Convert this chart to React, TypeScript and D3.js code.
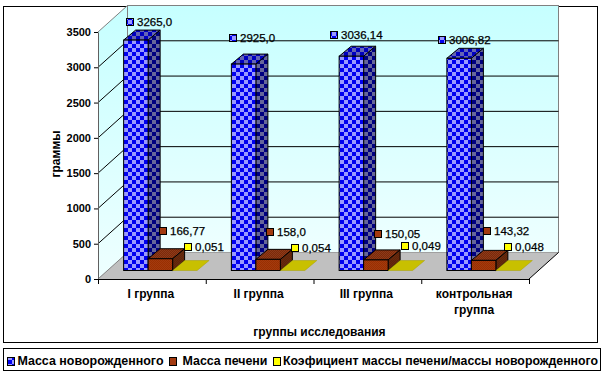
import { useEffect, useRef } from "react";
import * as d3 from "d3";

const categories = ["I группа", "II группа", "III группа", "контрольная группа"];
const seriesNames = [
  "Масса новорожденного",
  "Масса печени",
  "Коэфициент массы печени/массы новорожденного",
];
const newbornMass = [3265.0, 2925.0, 3036.14, 3006.82];
const liverMass = [166.77, 158.0, 150.05, 143.32];
const liverRatio = [0.051, 0.054, 0.049, 0.048];
const newbornLabels = ["3265,0", "2925,0", "3036,14", "3006,82"];
const liverLabels = ["166,77", "158,0", "150,05", "143,32"];
const ratioLabels = ["0,051", "0,054", "0,049", "0,048"];
const yTicks = [0, 500, 1000, 1500, 2000, 2500, 3000, 3500];

// hand-moved data labels in the original: offset of the key from the bar's top-left corner
const labelNudges = [
  [[6.5, -18.5], [2, -26.5], [-5.5, -21], [-5, -18.5]],
  [[15, -27.5], [14.5, -27], [14.5, -26], [15.5, -29]],
  [[15.5, -23.5], [14.5, -22.5], [16.5, -24.5], [12.5, -23.5]],
];

const FONT = "'Liberation Sans', Arial, sans-serif";

export default function App() {
  const svgRef = useRef<SVGSVGElement>(null);

  useEffect(() => {
    const el = svgRef.current;
    if (!el) return;
    const root = d3.select(el);
    root.selectAll("*").remove();

    const values = [newbornMass, liverMass, liverRatio];
    const labels = [newbornLabels, liverLabels, ratioLabels];

    const x0 = 98;
    const x1 = 529;
    const ys = d3.scaleLinear().domain([0, 3500]).range([279, 32]);
    const xs = d3
      .scaleBand()
      .domain(categories)
      .range([x0, x1])
      .paddingInner(0.318)
      .paddingOuter(0.159);
    const xStep = xs.step();
    const xInner = d3.scaleBand().domain(seriesNames).range([0, xs.bandwidth()]);
    const wall = { dx: 29.5, dy: -26.5 };
    const barShift = { dx: 8.5, dy: -8.5 };
    const depth = { dx: 12, dy: -10 };

    // Patterns
    const defs = root.append("defs");
    const checker = (id, a, b, size) => {
      const p = defs
        .append("pattern")
        .attr("id", id)
        .attr("patternUnits", "userSpaceOnUse")
        .attr("width", size * 2)
        .attr("height", size * 2);
      p.append("rect").attr("width", size * 2).attr("height", size * 2).attr("fill", a);
      p.append("rect").attr("width", size).attr("height", size).attr("fill", b);
      p.append("rect").attr("x", size).attr("y", size).attr("width", size).attr("height", size).attr("fill", b);
    };
    checker("blueFront", "#9999ff", "#0000f0", 4);
    checker("blueSide", "#000080", "#66669a", 4);
    checker("blueTop", "#0000c0", "#6464b4", 4);
    checker("blueKey", "#9999ff", "#0000f0", 4);
    checker("brownFront", "#a33a10", "#9a3000", 1);
    checker("brownSide", "#5f2408", "#662a10", 1);
    checker("brownTop", "#7c2a08", "#8c3a1c", 1);
    const grad = defs
      .append("linearGradient")
      .attr("id", "wallGrad")
      .attr("x1", 0)
      .attr("x2", 0)
      .attr("y1", 0)
      .attr("y2", 1);
    grad.append("stop").attr("offset", 0).attr("stop-color", "#c6ffff");
    grad.append("stop").attr("offset", 1).attr("stop-color", "#eeffff");

    root.append("rect").attr("width", 604).attr("height", 378).attr("fill", "#fff");

    // Frames
    root
      .append("rect")
      .attr("x", 3.5)
      .attr("y", 6.5)
      .attr("width", 594)
      .attr("height", 336)
      .attr("fill", "#fff")
      .attr("stroke", "#000");
    root
      .append("rect")
      .attr("x", 3.5)
      .attr("y", 348.5)
      .attr("width", 597)
      .attr("height", 22)
      .attr("fill", "#fff")
      .attr("stroke", "#000");

    // Walls and floor
    const yTop = ys(3500);
    const yBase = ys(0);
    const line = d3.line();
    root
      .append("path")
      .attr("d", line([[x0, yTop], [x0 + wall.dx, yTop + wall.dy], [x0 + wall.dx, yBase + wall.dy], [x0, yBase]]) + "Z")
      .attr("fill", "url(#wallGrad)");
    root
      .append("rect")
      .attr("x", x0 + wall.dx)
      .attr("y", yTop + wall.dy)
      .attr("width", x1 - x0)
      .attr("height", yBase - yTop)
      .attr("fill", "url(#wallGrad)")
      .attr("stroke", "#808080");
    root
      .append("path")
      .attr("d", line([[x0, yBase], [x1, yBase], [x1 + wall.dx, yBase + wall.dy], [x0 + wall.dx, yBase + wall.dy]]) + "Z")
      .attr("fill", "#c0c0c0");
    root
      .append("path")
      .attr("d", line([[x0, yTop], [x0 + wall.dx, yTop + wall.dy]]))
      .attr("stroke", "#808080")
      .attr("fill", "none");
    root
      .append("path")
      .attr("d", line([[x1, yBase], [x1 + wall.dx, yBase + wall.dy]]))
      .attr("stroke", "#000")
      .attr("fill", "none");

    // Grid
    yTicks
      .filter((d) => d > 0 && d < 3500)
      .forEach((d) => {
        root
          .append("path")
          .attr("d", line([[x0, ys(d)], [x0 + wall.dx, ys(d) + wall.dy], [x1 + wall.dx, ys(d) + wall.dy]]))
          .attr("fill", "none")
          .attr("stroke", "#000");
      });
    root
      .append("path")
      .attr("d", line([[x0, yBase], [x0 + wall.dx, yBase + wall.dy]]))
      .attr("stroke", "#808080")
      .attr("fill", "none");

    // Axes
    const axisStyle = (g) => {
      g.selectAll(".tick text")
        .attr("fill", "#000")
        .style("font-size", "11px")
        .style("font-weight", "bold")
        .style("font-family", FONT);
    };
    const yAxis = root
      .append("g")
      .attr("transform", `translate(${x0},0)`)
      .call(d3.axisLeft(ys).tickValues(yTicks).tickFormat(d3.format("d")).tickSize(4).tickSizeOuter(0).tickPadding(3))
      .call(axisStyle);
    yAxis.select(".domain").attr("stroke", "#606060");

    const xAxisScale = d3.scaleLinear().domain([0, categories.length]).range([x0, x1]);
    root
      .append("g")
      .attr("transform", `translate(0,${yBase})`)
      .call(d3.axisBottom(xAxisScale).tickValues(d3.range(categories.length + 1)).tickFormat(() => "").tickSize(5).tickSizeOuter(0));

    // Bars
    const barBase = yBase + barShift.dy;
    const yHeight = (v) => yBase - ys(v);
    categories.forEach((cat, ci) => {
      seriesNames.forEach((name, si) => {
        const bx = xs(cat) + xInner(name) + barShift.dx;
        const bw = xInner.bandwidth();
        const top = barBase - yHeight(values[si][ci]);
        const g = root.append("g");
        if (si === 2) {
          g.append("path")
            .attr("d", line([[bx, barBase], [bx + bw, barBase], [bx + bw + depth.dx, barBase + depth.dy], [bx + depth.dx, barBase + depth.dy]]) + "Z")
            .attr("fill", "#c8c000")
            .attr("stroke", "#a8a000")
            .attr("stroke-width", 0.5);
          return;
        }
        const pre = si === 0 ? "blue" : "brown";
        g.append("path")
          .attr("d", line([[bx, top], [bx + bw, top], [bx + bw + depth.dx, top + depth.dy], [bx + depth.dx, top + depth.dy]]) + "Z")
          .attr("fill", `url(#${pre}Top)`)
          .attr("stroke", "#000");
        g.append("path")
          .attr("d", line([[bx + bw, top], [bx + bw + depth.dx, top + depth.dy], [bx + bw + depth.dx, barBase + depth.dy], [bx + bw, barBase]]) + "Z")
          .attr("fill", `url(#${pre}Side)`)
          .attr("stroke", "#000");
        g.append("rect")
          .attr("x", bx)
          .attr("y", top)
          .attr("width", bw)
          .attr("height", barBase - top)
          .attr("fill", `url(#${pre}Front)`)
          .attr("stroke", "#000");
      });
    });

    // Data labels with legend keys
    const keyFills = ["url(#blueKey)", "#a33a10", "#ffff00"];
    const textStyle = (t, size, weight) =>
      t
        .attr("fill", "#000")
        .style("font-size", `${size}px`)
        .style("font-weight", weight)
        .style("font-family", FONT);
    categories.forEach((cat, ci) => {
      seriesNames.forEach((name, si) => {
        const bx = xs(cat) + xInner(name) + barShift.dx;
        const top = barBase - yHeight(values[si][ci]);
        const kx = Math.round(bx + labelNudges[si][ci][0]);
        const ky = Math.round(top + labelNudges[si][ci][1]);
        root
          .append("rect")
          .attr("x", kx - 3.5)
          .attr("y", ky - 3.5)
          .attr("width", 7)
          .attr("height", 7)
          .attr("fill", keyFills[si])
          .attr("stroke", "#000");
        root
          .append("text")
          .attr("x", kx + 7)
          .attr("y", ky + 4)
          .text(labels[si][ci])
          .call(textStyle, 11.5, "normal")
          .attr("stroke", "#000")
          .attr("stroke-width", 0.25);
      });
    });

    // Category labels
    categories.forEach((cat, ci) => {
      const cx = xs(cat) + xs.bandwidth() / 2 - 1;
      const lines = ci === 3 ? cat.split(" ") : [cat];
      lines.forEach((txt, li) => {
        root
          .append("text")
          .attr("x", cx)
          .attr("y", 298 + li * 16)
          .attr("text-anchor", "middle")
          .text(txt)
          .call(textStyle, 12, "bold");
      });
    });

    // Axis titles
    root
      .append("text")
      .attr("x", x0 + xStep * 2 + 6)
      .attr("y", 336)
      .attr("text-anchor", "middle")
      .text("группы исследования")
      .call(textStyle, 12, "bold");
    root
      .append("text")
      .attr("transform", "translate(60,154) rotate(-90)")
      .attr("text-anchor", "middle")
      .text("граммы")
      .call(textStyle, 12, "bold");

    // Legend
    const legendItems = [
      { key: 7, text: 17.5, len: 146 },
      { key: 169, text: 182.5, len: 85 },
      { key: 273, text: 283, len: 315 },
    ];
    seriesNames.forEach((name, si) => {
      const item = legendItems[si];
      root
        .append("rect")
        .attr("x", item.key + 0.5)
        .attr("y", 357.5)
        .attr("width", 7)
        .attr("height", 8)
        .attr("fill", keyFills[si])
        .attr("stroke", "#000");
      root
        .append("text")
        .attr("x", item.text)
        .attr("y", 365)
        .attr("textLength", item.len)
        .attr("lengthAdjust", "spacingAndGlyphs")
        .text(name)
        .call(textStyle, 12, "bold");
    });
  }, []);

  return (
    <svg
      ref={svgRef}
      width={604}
      height={378}
      style={{ position: "absolute", left: 0, top: 0 }}
    />
  );
}
